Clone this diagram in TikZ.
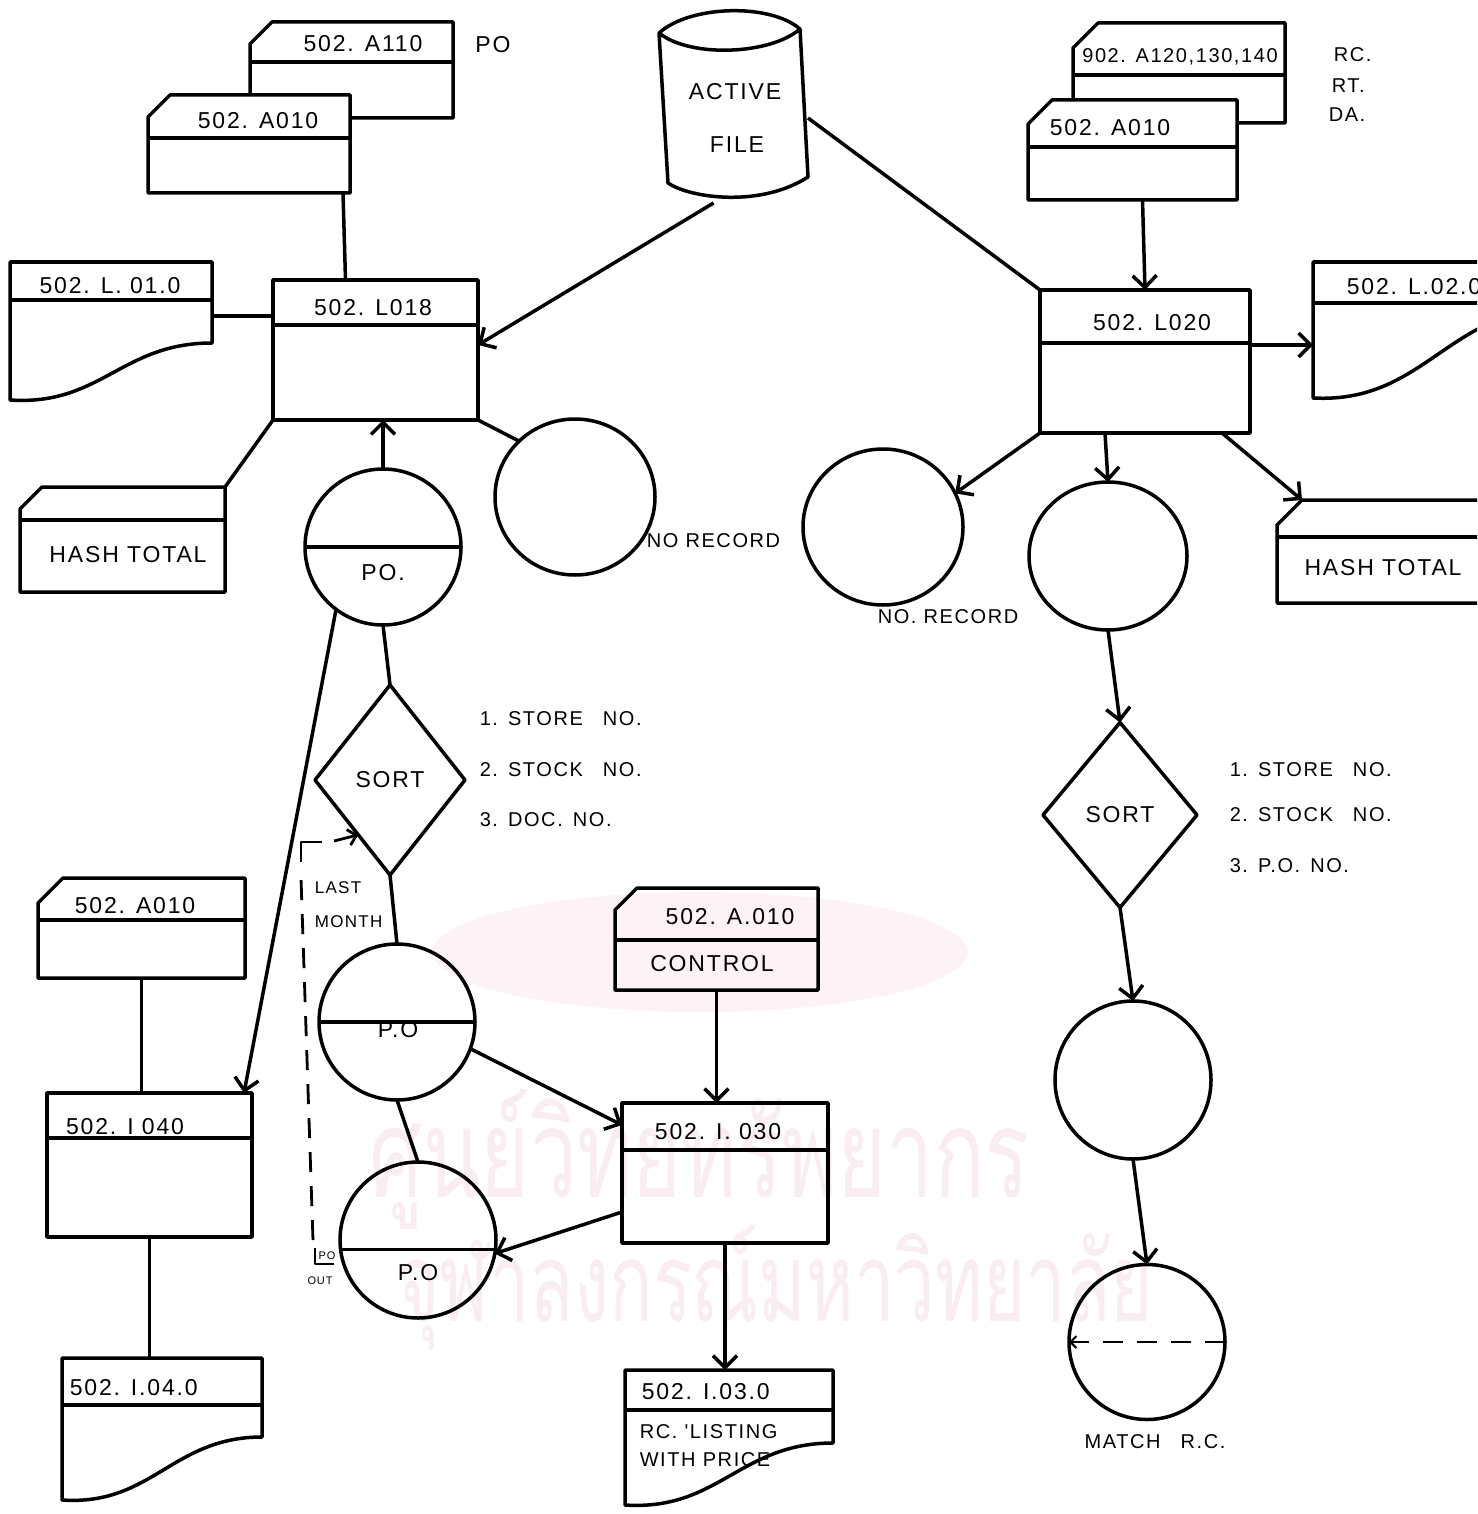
\documentclass[tikz,border=0pt]{standalone}
\usepackage{fontspec}
\setmainfont{Liberation Sans}
\newfontfamily\hand[LetterSpace=8]{Liberation Sans}
\newfontfamily\thaifont[Script=Thai]{Loma}
\usetikzlibrary{arrows.meta,shapes.geometric,fit}
\definecolor{wmpink}{RGB}{250,237,242}
\definecolor{wmblob}{RGB}{253,243,246}

\tikzset{
  ghost/.style={draw=none,rectangle,inner sep=0pt,outer sep=0pt},
  disk/.style={draw,ellipse,inner sep=0pt,outer sep=0pt},
  decision/.style={draw,diamond,inner sep=0pt,outer sep=0pt},
  lbl/.style={font=\hand\fontsize{23}{27}\selectfont,inner sep=0pt},
  lblsm/.style={font=\hand\fontsize{20}{24}\selectfont,inner sep=0pt},
  lblxs/.style={font=\hand\fontsize{17}{20}\selectfont,inner sep=0pt},
  lbltiny/.style={font=\hand\fontsize{11}{13}\selectfont,inner sep=0pt},
  arr/.style={-{Straight Barb[length=12pt,width=24pt]}},
  dashes/.style={dash pattern=on 20pt off 14pt},
}

% card with cut corner: [opts] name x1 y1 x2 y2 cut ydiv
\newcommand\cardat[8][]{%
  \node[ghost,fit={(#3,#4)(#5,#6)}] (#2) {};
  \draw[#1] (#3,#4+#7) -- (#3+#7,#4) -- (#5,#4) -- (#5,#6) -- (#3,#6) -- cycle;
  \draw (#3,#8) -- (#5,#8);}
% document: name x1 y1 x2 y2 rise ydiv
\newcommand\docat[7]{%
  \node[ghost,fit={(#2,#3)(#4,#5)}] (#1) {};
  \draw (#2,#5) -- (#2,#3) -- (#4,#3) -- (#4,#5-#6) .. controls ({#4-0.45*(#4-#2)},{#5-#6}) and ({#2+0.45*(#4-#2)},{#5+6}) .. (#2,#5) -- cycle;
  \draw (#2,#7) -- (#4,#7);}
% process: name x1 y1 x2 y2 ydiv
\newcommand\procat[6]{%
  \node[ghost,fit={(#2,#3)(#4,#5)}] (#1) {};
  \draw (#2,#3) rectangle (#4,#5);
  \draw (#2,#6) -- (#4,#6);}

\begin{document}
\begin{tikzpicture}[x=1pt,y=-1pt,line width=3.5pt,line join=round]
\useasboundingbox (0,0) rectangle (1477,1514);
\clip (0,0) rectangle (1477,1514);
\fill[white] (0,0) rectangle (1477,1514);

% faint watermark
\fill[wmblob] (700,952) ellipse [x radius=268, y radius=60];
\node[text=wmpink,inner sep=0pt] (wmA) at (700,1160) {\resizebox*{660pt}{140pt}{\thaifont ศูนย์วิทยทรัพยากร}};
\node[text=wmpink,inner sep=0pt] (wmB) at (775,1288) {\resizebox*{755pt}{125pt}{\thaifont จุฬาลงกรณ์มหาวิทยาลัย}};

% ---- top left
\cardat{a110}{250}{22}{453}{118}{22}{62}
\cardat[fill=white]{a010L}{148}{95}{350}{193}{22}{138}
\node[lbl] at (363,44) {502. A110};
\node[lbl] at (258,121) {502. A010};
\node[lbl] at (493,45) {PO};

\docat{docL01}{10}{262}{212}{400}{57}{300}
\node[lbl] at (110,286) {502. L. 01.0};

\procat{L018}{273}{280}{478}{420}{325}
\node[lbl] at (373,308) {502. L018};

% ---- active file
\node[ghost,fit={(659,8)(808,203)}] (act) {};
\draw (659,33) .. controls (690,5) and (770,3) .. (800,29) .. controls (770,55) and (690,58) .. (659,33) -- (668,183) .. controls (690,198) and (760,208) .. (808,177) -- (800,29);
\node[lbl] at (735,92) {ACTIVE};
\node[lbl] at (737,145) {FILE};

% ---- top right
\cardat{c902}{1073}{23}{1285}{123}{25}{75}
\cardat[fill=white]{a010R}{1028}{100}{1237}{200}{24}{147}
\node[lblsm] at (1180,57) {902. A120,130,140};
\node[lbl] at (1110,128) {502. A010};
\node[lblsm,anchor=west] at (1332,55) {RC.};
\node[lblsm,anchor=west] at (1330,86) {RT.};
\node[lblsm,anchor=west] at (1327,115) {DA.};

\procat{L020}{1040}{290}{1250}{433}{343}
\node[lbl] at (1152,323) {502. L020};
\docat{docL02}{1313}{262}{1560}{398}{90}{303}
\node[lbl,anchor=west] at (1345,287) {502. L.02.0};

% ---- hash totals
\cardat{hashL}{20}{487}{225}{592}{22}{520}
\node[lbl] at (128,555) {HASH TOTAL};
\cardat{hashR}{1277}{500}{1500}{603}{25}{537}
\node[lbl] at (1383,568) {HASH TOTAL};

% ---- circles row
\node[disk,minimum width=156pt,minimum height=156pt] (poC) at (383,547) {};
\draw (poC.west) -- (poC.east);
\node[lbl] at (383,573) {PO.};
\node[disk,minimum width=160pt,minimum height=156pt] (nr1) at (575,497) {};
\node[lblsm,anchor=west] at (645,541) {NO RECORD};
\node[disk,minimum width=160pt,minimum height=156pt] (nr2) at (883,527) {};
\node[lblsm,anchor=west] at (876,617) {NO. RECORD};
\node[disk,minimum width=158pt,minimum height=148pt] (c3) at (1108,556) {};

% ---- sorts
\node[decision,lbl,minimum width=150pt,minimum height=190pt] (sortL) at (390,780) {SORT};
\node[lblsm,anchor=west] at (478,719) {1.\enspace STORE\quad NO.};
\node[lblsm,anchor=west] at (478,770) {2.\enspace STOCK\quad NO.};
\node[lblsm,anchor=west] at (478,820) {3.\enspace DOC.\enspace NO.};
\node[decision,lbl,minimum width=154pt,minimum height=185pt] (sortR) at (1120,815) {SORT};
\node[lblsm,anchor=west] at (1228,770) {1.\enspace STORE\quad NO.};
\node[lblsm,anchor=west] at (1228,815) {2.\enspace STOCK\quad NO.};
\node[lblsm,anchor=west] at (1228,866) {3.\enspace P.O.\enspace NO.};

% ---- lower middle
\node[disk,minimum width=156pt,minimum height=156pt] (po1) at (397,1022) {};
\draw (po1.west) -- (po1.east);
\node[lbl] at (398,1030) {P.O};
\node[disk,minimum width=156pt,minimum height=156pt] (po2) at (418,1240) {};
\draw (po2.187) -- (po2.-7);
\node[lbl] at (418,1273) {P.O};

% ---- lower left
\cardat{a010LL}{38}{878}{245}{978}{25}{920}
\node[lbl] at (135,906) {502. A010};
\procat{i040}{47}{1093}{252}{1237}{1138}
\node[lbl] at (125,1127) {502. I 040};
\docat{docI04}{62}{1358}{262}{1500}{63}{1405}
\node[lbl,anchor=west] at (68,1388) {502. I.04.0};

% ---- control / I030
\cardat{ctrl}{615}{888}{818}{990}{22}{940}
\node[lbl] at (730,917) {502. A.010};
\node[lbl] at (712,964) {CONTROL};
\procat{i030}{622}{1103}{828}{1243}{1150}
\node[lbl] at (718,1132) {502. I. 030};
\docat{docI03}{625}{1370}{833}{1505}{62}{1410}
\node[lbl,anchor=west] at (640,1392) {502. I.03.0};
\node[lblsm,anchor=west] at (638,1432) {RC. 'LISTING};
\node[lblsm,anchor=west] at (638,1460) {WITH PRICE};

% ---- lower right
\node[disk,minimum width=156pt,minimum height=158pt] (c4) at (1133,1080) {};
\node[disk,minimum width=156pt,minimum height=155pt] (c5) at (1147,1342) {};
\draw[dashes,line width=2pt,-{Straight Barb[length=6pt,width=12pt]}] (c5.east) -- (c5.west);
\node[lblsm] at (1155,1442) {MATCH\quad R.C.};

% ---- connectors
\draw ([xshift=-7pt]a010L.south east) -- ([xshift=-30pt]L018.north);
\draw (docL01.east |- 0,316) -- (L018.west |- 0,316);
\draw[arr] ([xshift=-20pt]act.south) -- (L018.east |- 0,345);
\draw (act.east |- 0,118) -- (L020.north west);
\draw[arr] ([xshift=10pt]a010R.south) -- (L020.north);
\draw[arr] (L020.east |- 0,345) -- (docL02.west |- 0,345);
\draw (L018.south west) -- (hashL.north east);
\draw[arr] (poC.north) -- (L018.south -| poC.north);
\draw (L018.south east) -- (nr1.135);
\draw[arr] (L020.south west) -- (nr2.25);
\draw[arr] ([xshift=-40pt]L020.south) -- (c3.north);
\draw[arr] ([xshift=77pt]L020.south) -- ([xshift=25pt]hashR.north west);
\draw[arr] (c3.south) -- (sortR.north);
\draw[arr] (sortR.south) -- (c4.north);
\draw[arr] (c4.south) -- (c5.north);
\draw (poC.south) -- (sortL.north);
\draw (sortL.south) -- (po1.north);
\draw (po1.south) -- (po2.north);
\draw[arr] (poC.233) -- ([xshift=-8pt]i040.north east);
\draw (a010LL.south) -- (a010LL.south |- i040.north);
\draw (i040.south) -- (i040.south |- docI04.north);
\draw[arr] (ctrl.south) -- (ctrl.south |- i030.north);
\draw[arr] (po1.-20) -- (i030.west |- 0,1125);
\draw[arr] (i030.west |- 0,1212) -- (po2.-10);
\draw[arr] (i030.south) -- (i030.south |- docI03.north);

% ---- last month loop
\coordinate (loopTop) at (301,878);
\coordinate (loopBot) at (313,1240);
\draw[dashes,line width=2.8pt] (loopBot) -- (loopTop);
\draw[line width=2.8pt] (301,862) -- (301,842) -- (322,842);
\draw[line width=2.8pt,-{Straight Barb[length=8pt,width=16pt]}] (334,841) -- (sortL.-120);
\draw[line width=2.8pt] (315,1248) -- (315,1264) -- (334,1264);
\node[lbltiny] at (327,1256) {PO};
\node[lbltiny] at (320,1281) {OUT};
\node[lblxs,anchor=west] at (313,888) {LAST};
\node[lblxs,anchor=west] at (313,922) {MONTH};
\end{tikzpicture}
\end{document}
